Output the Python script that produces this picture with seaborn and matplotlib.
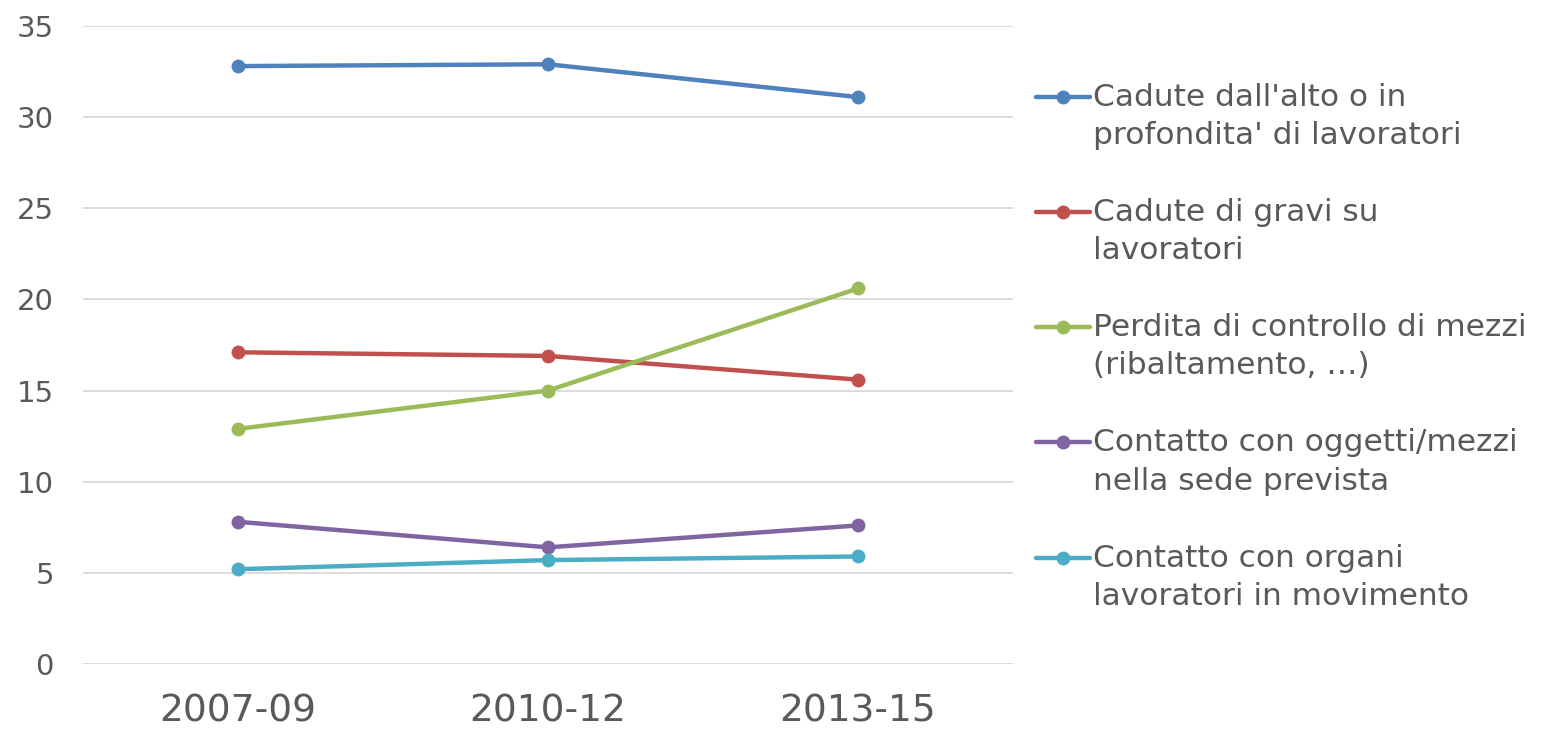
import numpy as np
import pandas as pd
import matplotlib
matplotlib.use("Agg")
import matplotlib.pyplot as plt
from matplotlib.legend_handler import HandlerLine2D
import seaborn as sns

periods = ["2007-09", "2010-12", "2013-15"]
series_names = [
    "Cadute dall'alto o in\nprofondita' di lavoratori",
    "Cadute di gravi su\nlavoratori",
    "Perdita di controllo di mezzi\n(ribaltamento, …)",
    "Contatto con oggetti/mezzi\nnella sede prevista",
    "Contatto con organi\nlavoratori in movimento",
]
cadute_alto = [32.8, 32.9, 31.1]
cadute_gravi = [17.1, 16.9, 15.6]
perdita_controllo = [12.9, 15.0, 20.6]
contatto_oggetti = [7.8, 6.4, 7.6]
contatto_organi = [5.2, 5.7, 5.9]
colors = ["#4F81BD", "#C0504D", "#9BBB59", "#8064A2", "#4BACC6"]

values = [cadute_alto, cadute_gravi, perdita_controllo, contatto_oggetti, contatto_organi]
rows = []
for name, vals in zip(series_names, values):
    for p, v in zip(periods, vals):
        rows.append({"periodo": p, "valore": v, "serie": name})
df = pd.DataFrame(rows)


class FirstLineHandler(HandlerLine2D):
    # put the legend marker next to the first text line, like Excel does
    def create_artists(self, legend, orig_handle, xdescent, ydescent,
                       width, height, fontsize, trans):
        artists = super().create_artists(legend, orig_handle, xdescent, ydescent,
                                         width, height, fontsize, trans)
        for a in artists:
            a.set_ydata(np.asarray(a.get_ydata()) + 14.5)
        return artists


sns.set_theme(style="white")
plt.rcParams["font.family"] = ["DejaVu Sans"]
text_color = "#595959"

fig = plt.figure(figsize=(15.42, 7.30), dpi=100)
ax = fig.add_axes([83 / 1542, 1 - 664 / 730, (1013 - 83) / 1542, (664 - 26) / 730])

sns.lineplot(data=df, x="periodo", y="valore", hue="serie", palette=colors,
             marker="o", markersize=10, markeredgewidth=0, linewidth=3.2,
             sort=False, ax=ax)

ax.set_xlim(-0.5, 2.5)
ax.set_ylim(0, 35)
ax.set_yticks(range(0, 36, 5))
ax.grid(axis="y", color="#D9D9D9", linewidth=1.3)
ax.set_axisbelow(True)
for s in ax.spines.values():
    s.set_visible(False)
ax.set_xlabel("")
ax.set_ylabel("")
ax.tick_params(axis="y", labelsize=21, colors=text_color, length=0, pad=21)
ax.tick_params(axis="x", labelsize=27, colors=text_color, length=0, pad=21)

handles, labels = ax.get_legend_handles_labels()
leg = ax.legend(handles, labels, loc="upper left", bbox_to_anchor=(1023 / 1542, 1 - 70 / 730),
                bbox_transform=fig.transFigure, frameon=False, fontsize=22.5,
                handlelength=1.75, handletextpad=0.1, labelspacing=1.54, borderaxespad=0,
                handler_map={h: FirstLineHandler() for h in handles})
for t in leg.get_texts():
    t.set_color(text_color)
    t.set_linespacing(1.4)

fig.savefig("out.png", dpi=100)
